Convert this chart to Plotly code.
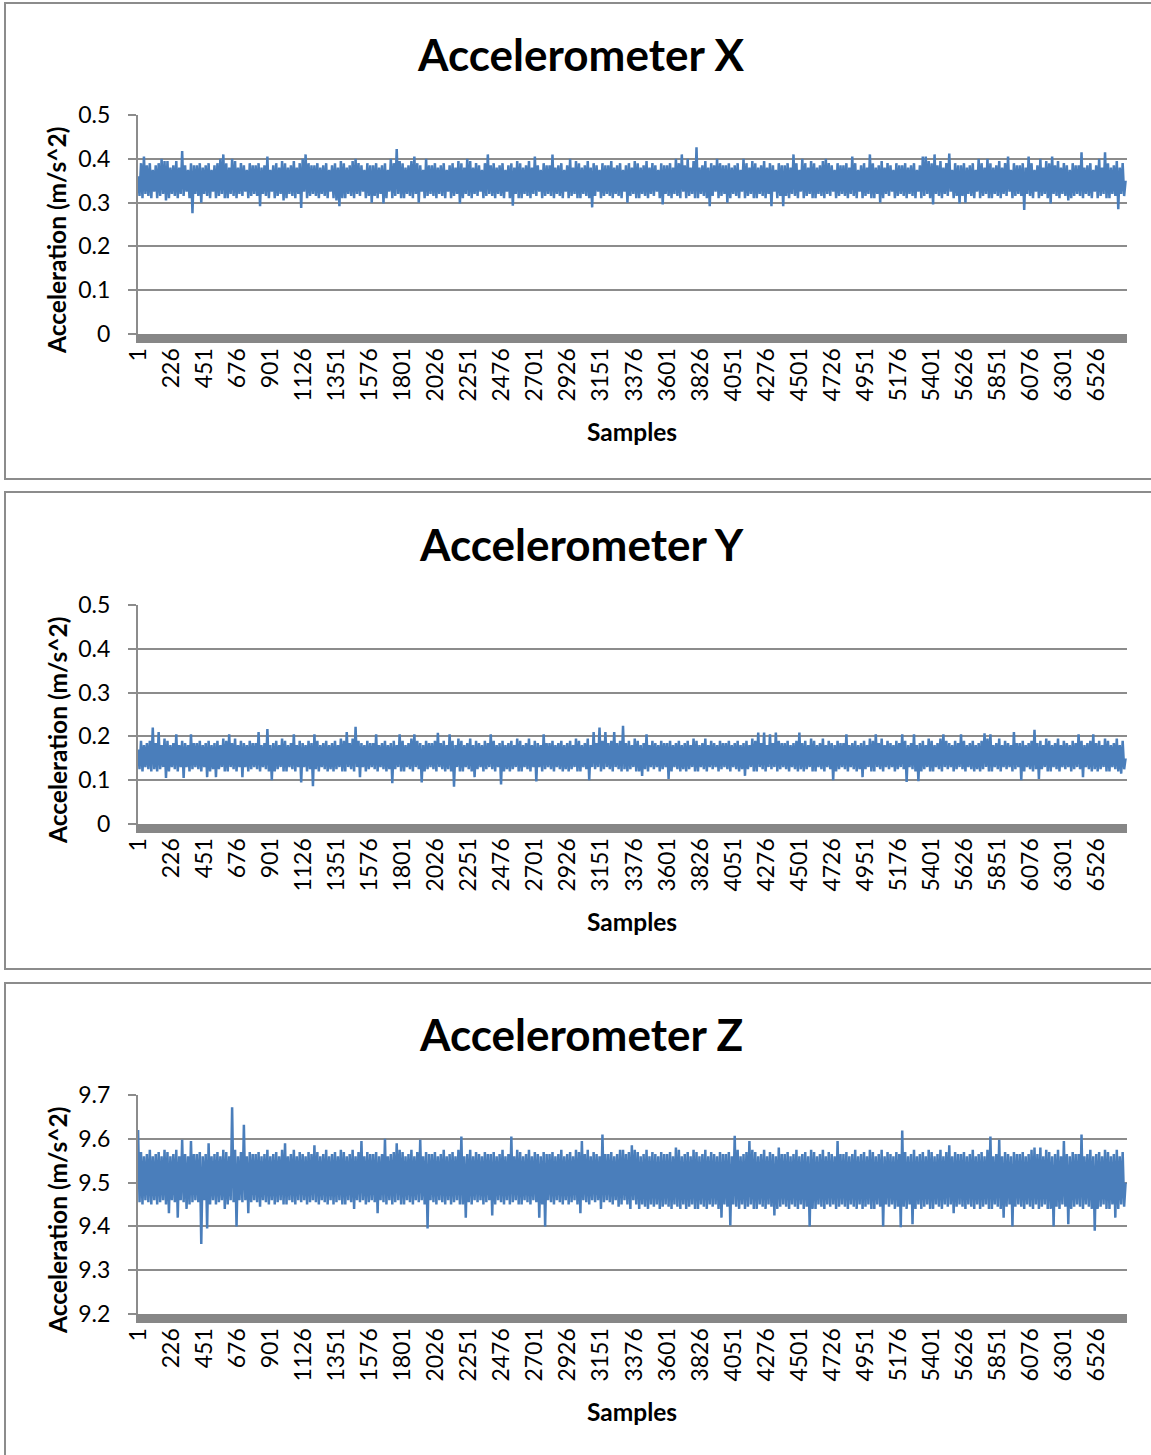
import plotly.graph_objects as go

W, H = 1151, 1455

# ---------------- data (one value every 10 samples) -------------
SAMPLE_STEP = 10
N_SAMPLES = 6730
TICK_LABELS = [str(1 + 225 * k) for k in range(30)]

ACC_X = [
    0.36, 0.315, 0.39, 0.31, 0.405, 0.32, 0.385, 0.315, 0.39, 0.31, 0.375, 0.325, 0.385, 0.31, 0.39, 0.315, 0.40, 0.32, 0.395, 0.305,
    0.395, 0.31, 0.38, 0.32, 0.385, 0.315, 0.395, 0.31, 0.38, 0.32, 0.418, 0.315, 0.385, 0.325, 0.375, 0.31, 0.39, 0.276, 0.385, 0.32,
    0.385, 0.315, 0.39, 0.30, 0.38, 0.32, 0.385, 0.315, 0.39, 0.31, 0.375, 0.325, 0.385, 0.31, 0.39, 0.315, 0.40, 0.32, 0.41, 0.31,
    0.39, 0.31, 0.38, 0.32, 0.40, 0.315, 0.395, 0.31, 0.38, 0.32, 0.39, 0.315, 0.385, 0.325, 0.375, 0.31, 0.39, 0.315, 0.385, 0.32,
    0.385, 0.315, 0.39, 0.292, 0.38, 0.32, 0.385, 0.315, 0.405, 0.31, 0.375, 0.325, 0.385, 0.31, 0.39, 0.315, 0.38, 0.32, 0.395, 0.305,
    0.39, 0.31, 0.38, 0.32, 0.385, 0.315, 0.395, 0.31, 0.38, 0.32, 0.39, 0.288, 0.40, 0.325, 0.41, 0.31, 0.39, 0.315, 0.385, 0.32,
    0.385, 0.315, 0.39, 0.31, 0.38, 0.32, 0.385, 0.315, 0.39, 0.31, 0.375, 0.325, 0.385, 0.31, 0.39, 0.305, 0.38, 0.292, 0.395, 0.31,
    0.39, 0.31, 0.38, 0.32, 0.385, 0.315, 0.395, 0.31, 0.40, 0.32, 0.39, 0.315, 0.385, 0.325, 0.375, 0.31, 0.39, 0.315, 0.385, 0.30,
    0.385, 0.315, 0.39, 0.31, 0.38, 0.32, 0.385, 0.298, 0.39, 0.31, 0.375, 0.325, 0.40, 0.31, 0.39, 0.315, 0.422, 0.32, 0.395, 0.31,
    0.39, 0.31, 0.38, 0.32, 0.385, 0.315, 0.395, 0.31, 0.405, 0.32, 0.39, 0.30, 0.385, 0.325, 0.375, 0.31, 0.40, 0.315, 0.385, 0.32,
    0.385, 0.315, 0.39, 0.31, 0.38, 0.32, 0.385, 0.315, 0.39, 0.31, 0.375, 0.325, 0.385, 0.31, 0.39, 0.315, 0.38, 0.32, 0.395, 0.298,
    0.39, 0.31, 0.38, 0.32, 0.40, 0.315, 0.395, 0.31, 0.38, 0.32, 0.39, 0.315, 0.385, 0.325, 0.375, 0.31, 0.39, 0.315, 0.41, 0.32,
    0.385, 0.315, 0.39, 0.31, 0.38, 0.32, 0.385, 0.315, 0.39, 0.31, 0.375, 0.325, 0.385, 0.31, 0.39, 0.293, 0.38, 0.32, 0.395, 0.31,
    0.39, 0.31, 0.38, 0.32, 0.385, 0.315, 0.395, 0.31, 0.38, 0.32, 0.405, 0.315, 0.385, 0.325, 0.375, 0.31, 0.39, 0.315, 0.385, 0.32,
    0.385, 0.315, 0.41, 0.31, 0.38, 0.32, 0.385, 0.315, 0.39, 0.31, 0.375, 0.325, 0.385, 0.31, 0.40, 0.315, 0.38, 0.32, 0.395, 0.31,
    0.39, 0.31, 0.38, 0.32, 0.385, 0.315, 0.395, 0.31, 0.38, 0.289, 0.39, 0.315, 0.385, 0.325, 0.375, 0.31, 0.39, 0.315, 0.385, 0.32,
    0.385, 0.315, 0.395, 0.31, 0.38, 0.32, 0.385, 0.315, 0.39, 0.31, 0.375, 0.325, 0.385, 0.30, 0.39, 0.315, 0.38, 0.32, 0.395, 0.31,
    0.39, 0.31, 0.38, 0.32, 0.385, 0.315, 0.395, 0.31, 0.38, 0.32, 0.39, 0.315, 0.385, 0.325, 0.375, 0.31, 0.39, 0.296, 0.385, 0.32,
    0.385, 0.315, 0.39, 0.31, 0.38, 0.32, 0.40, 0.315, 0.39, 0.31, 0.41, 0.325, 0.385, 0.31, 0.40, 0.315, 0.38, 0.32, 0.395, 0.31,
    0.426, 0.31, 0.38, 0.32, 0.385, 0.315, 0.395, 0.31, 0.38, 0.292, 0.39, 0.315, 0.385, 0.325, 0.40, 0.31, 0.39, 0.315, 0.385, 0.32,
    0.385, 0.30, 0.39, 0.31, 0.38, 0.32, 0.385, 0.315, 0.39, 0.31, 0.375, 0.325, 0.40, 0.31, 0.39, 0.315, 0.38, 0.32, 0.395, 0.31,
    0.39, 0.31, 0.38, 0.32, 0.385, 0.315, 0.395, 0.31, 0.38, 0.32, 0.39, 0.292, 0.385, 0.325, 0.375, 0.31, 0.39, 0.315, 0.385, 0.292,
    0.385, 0.315, 0.39, 0.31, 0.38, 0.32, 0.41, 0.315, 0.39, 0.31, 0.375, 0.325, 0.40, 0.31, 0.39, 0.315, 0.38, 0.32, 0.395, 0.31,
    0.39, 0.31, 0.38, 0.32, 0.385, 0.315, 0.395, 0.31, 0.40, 0.32, 0.39, 0.315, 0.385, 0.325, 0.375, 0.31, 0.39, 0.315, 0.385, 0.32,
    0.385, 0.315, 0.39, 0.31, 0.38, 0.32, 0.405, 0.315, 0.39, 0.31, 0.375, 0.325, 0.385, 0.31, 0.39, 0.315, 0.38, 0.32, 0.41, 0.31,
    0.39, 0.31, 0.38, 0.32, 0.385, 0.30, 0.395, 0.31, 0.38, 0.32, 0.39, 0.315, 0.385, 0.325, 0.375, 0.31, 0.39, 0.315, 0.385, 0.32,
    0.385, 0.315, 0.39, 0.31, 0.38, 0.32, 0.385, 0.315, 0.39, 0.31, 0.375, 0.325, 0.385, 0.31, 0.405, 0.315, 0.405, 0.32, 0.395, 0.31,
    0.39, 0.296, 0.41, 0.32, 0.385, 0.315, 0.395, 0.31, 0.38, 0.32, 0.39, 0.315, 0.412, 0.325, 0.375, 0.31, 0.39, 0.315, 0.385, 0.298,
    0.385, 0.315, 0.39, 0.30, 0.38, 0.32, 0.385, 0.315, 0.39, 0.31, 0.375, 0.325, 0.40, 0.31, 0.39, 0.315, 0.38, 0.32, 0.40, 0.31,
    0.39, 0.31, 0.38, 0.32, 0.385, 0.315, 0.395, 0.31, 0.38, 0.32, 0.39, 0.315, 0.405, 0.325, 0.375, 0.31, 0.39, 0.315, 0.385, 0.32,
    0.385, 0.315, 0.39, 0.283, 0.38, 0.32, 0.405, 0.315, 0.39, 0.31, 0.375, 0.325, 0.385, 0.31, 0.40, 0.315, 0.38, 0.32, 0.395, 0.31,
    0.39, 0.298, 0.405, 0.32, 0.385, 0.315, 0.395, 0.31, 0.38, 0.32, 0.39, 0.315, 0.385, 0.305, 0.375, 0.31, 0.39, 0.315, 0.385, 0.32,
    0.385, 0.315, 0.415, 0.31, 0.38, 0.32, 0.385, 0.315, 0.39, 0.31, 0.375, 0.325, 0.385, 0.31, 0.40, 0.315, 0.38, 0.32, 0.415, 0.31,
    0.39, 0.31, 0.38, 0.32, 0.385, 0.315, 0.395, 0.285, 0.38, 0.32, 0.39, 0.315, 0.35,
]

ACC_Y = [
    0.17, 0.125, 0.19, 0.12, 0.18, 0.13, 0.185, 0.125, 0.19, 0.12, 0.22, 0.125, 0.185, 0.12, 0.21, 0.125, 0.18, 0.13, 0.195, 0.105,
    0.19, 0.12, 0.18, 0.13, 0.185, 0.125, 0.205, 0.12, 0.18, 0.13, 0.19, 0.105, 0.185, 0.13, 0.18, 0.12, 0.205, 0.125, 0.185, 0.13,
    0.185, 0.125, 0.19, 0.12, 0.18, 0.13, 0.185, 0.107, 0.19, 0.12, 0.18, 0.125, 0.185, 0.107, 0.19, 0.125, 0.18, 0.13, 0.195, 0.12,
    0.19, 0.12, 0.205, 0.13, 0.185, 0.125, 0.195, 0.12, 0.18, 0.13, 0.19, 0.107, 0.185, 0.13, 0.18, 0.12, 0.19, 0.125, 0.185, 0.13,
    0.185, 0.125, 0.21, 0.12, 0.18, 0.13, 0.185, 0.125, 0.217, 0.12, 0.18, 0.10, 0.185, 0.12, 0.19, 0.125, 0.18, 0.13, 0.195, 0.12,
    0.19, 0.12, 0.18, 0.13, 0.185, 0.125, 0.205, 0.12, 0.18, 0.13, 0.19, 0.095, 0.185, 0.13, 0.18, 0.12, 0.19, 0.125, 0.185, 0.086,
    0.205, 0.125, 0.19, 0.12, 0.18, 0.13, 0.185, 0.125, 0.19, 0.12, 0.18, 0.125, 0.185, 0.12, 0.19, 0.125, 0.18, 0.13, 0.195, 0.12,
    0.19, 0.12, 0.21, 0.13, 0.185, 0.125, 0.195, 0.12, 0.222, 0.13, 0.19, 0.107, 0.185, 0.13, 0.18, 0.12, 0.19, 0.125, 0.185, 0.13,
    0.185, 0.125, 0.205, 0.12, 0.18, 0.13, 0.185, 0.125, 0.19, 0.12, 0.18, 0.125, 0.185, 0.093, 0.19, 0.125, 0.18, 0.13, 0.205, 0.12,
    0.19, 0.12, 0.18, 0.13, 0.185, 0.125, 0.195, 0.12, 0.205, 0.13, 0.19, 0.125, 0.185, 0.095, 0.18, 0.12, 0.19, 0.125, 0.185, 0.13,
    0.185, 0.125, 0.19, 0.12, 0.208, 0.13, 0.185, 0.125, 0.19, 0.12, 0.18, 0.125, 0.205, 0.12, 0.19, 0.085, 0.18, 0.13, 0.195, 0.12,
    0.19, 0.12, 0.18, 0.13, 0.185, 0.125, 0.195, 0.12, 0.18, 0.107, 0.19, 0.125, 0.185, 0.13, 0.18, 0.12, 0.19, 0.125, 0.185, 0.13,
    0.205, 0.125, 0.19, 0.12, 0.18, 0.13, 0.185, 0.09, 0.19, 0.12, 0.18, 0.125, 0.185, 0.12, 0.19, 0.125, 0.18, 0.13, 0.195, 0.12,
    0.19, 0.12, 0.18, 0.13, 0.185, 0.125, 0.195, 0.12, 0.18, 0.13, 0.19, 0.097, 0.185, 0.13, 0.18, 0.12, 0.205, 0.125, 0.185, 0.13,
    0.185, 0.125, 0.19, 0.12, 0.18, 0.13, 0.185, 0.125, 0.19, 0.12, 0.18, 0.125, 0.185, 0.12, 0.19, 0.125, 0.18, 0.13, 0.195, 0.12,
    0.19, 0.12, 0.18, 0.13, 0.185, 0.125, 0.195, 0.10, 0.18, 0.13, 0.21, 0.125, 0.185, 0.13, 0.22, 0.12, 0.19, 0.125, 0.21, 0.13,
    0.185, 0.125, 0.19, 0.12, 0.21, 0.13, 0.185, 0.125, 0.19, 0.12, 0.224, 0.125, 0.185, 0.12, 0.19, 0.125, 0.18, 0.13, 0.195, 0.12,
    0.19, 0.12, 0.18, 0.11, 0.185, 0.125, 0.205, 0.12, 0.18, 0.13, 0.19, 0.125, 0.185, 0.13, 0.18, 0.12, 0.19, 0.125, 0.185, 0.13,
    0.185, 0.103, 0.19, 0.12, 0.18, 0.13, 0.185, 0.125, 0.19, 0.12, 0.18, 0.125, 0.185, 0.12, 0.19, 0.125, 0.18, 0.13, 0.195, 0.12,
    0.19, 0.12, 0.18, 0.13, 0.185, 0.125, 0.195, 0.12, 0.18, 0.13, 0.19, 0.125, 0.185, 0.13, 0.18, 0.12, 0.19, 0.125, 0.185, 0.13,
    0.185, 0.125, 0.19, 0.12, 0.18, 0.13, 0.185, 0.125, 0.19, 0.12, 0.18, 0.125, 0.185, 0.11, 0.19, 0.125, 0.18, 0.13, 0.195, 0.12,
    0.19, 0.12, 0.209, 0.13, 0.185, 0.125, 0.209, 0.12, 0.18, 0.13, 0.205, 0.125, 0.185, 0.13, 0.209, 0.12, 0.19, 0.125, 0.185, 0.13,
    0.185, 0.125, 0.19, 0.12, 0.18, 0.13, 0.185, 0.125, 0.19, 0.12, 0.209, 0.125, 0.185, 0.12, 0.19, 0.125, 0.18, 0.13, 0.195, 0.12,
    0.19, 0.12, 0.18, 0.13, 0.185, 0.125, 0.195, 0.12, 0.18, 0.13, 0.19, 0.125, 0.185, 0.10, 0.18, 0.12, 0.19, 0.125, 0.185, 0.13,
    0.185, 0.125, 0.205, 0.12, 0.18, 0.13, 0.185, 0.125, 0.19, 0.12, 0.18, 0.125, 0.185, 0.107, 0.19, 0.125, 0.18, 0.13, 0.195, 0.12,
    0.19, 0.12, 0.205, 0.13, 0.185, 0.125, 0.195, 0.12, 0.18, 0.13, 0.19, 0.125, 0.185, 0.13, 0.18, 0.12, 0.19, 0.125, 0.185, 0.13,
    0.205, 0.125, 0.19, 0.096, 0.18, 0.13, 0.185, 0.125, 0.205, 0.12, 0.18, 0.098, 0.185, 0.12, 0.19, 0.125, 0.18, 0.13, 0.195, 0.12,
    0.19, 0.12, 0.18, 0.13, 0.185, 0.125, 0.195, 0.12, 0.205, 0.13, 0.19, 0.125, 0.185, 0.13, 0.18, 0.12, 0.19, 0.125, 0.185, 0.13,
    0.205, 0.125, 0.19, 0.12, 0.18, 0.13, 0.185, 0.125, 0.19, 0.12, 0.18, 0.125, 0.185, 0.12, 0.19, 0.125, 0.207, 0.13, 0.195, 0.12,
    0.205, 0.12, 0.18, 0.13, 0.185, 0.125, 0.195, 0.12, 0.18, 0.13, 0.19, 0.125, 0.185, 0.13, 0.18, 0.12, 0.21, 0.125, 0.185, 0.13,
    0.185, 0.10, 0.19, 0.12, 0.18, 0.13, 0.185, 0.125, 0.19, 0.12, 0.215, 0.125, 0.185, 0.103, 0.19, 0.125, 0.18, 0.13, 0.195, 0.12,
    0.19, 0.12, 0.18, 0.13, 0.185, 0.125, 0.195, 0.12, 0.18, 0.13, 0.19, 0.125, 0.185, 0.13, 0.18, 0.12, 0.19, 0.125, 0.185, 0.13,
    0.205, 0.125, 0.19, 0.107, 0.18, 0.13, 0.185, 0.125, 0.19, 0.12, 0.205, 0.125, 0.185, 0.12, 0.19, 0.125, 0.18, 0.13, 0.195, 0.12,
    0.19, 0.12, 0.18, 0.13, 0.185, 0.125, 0.195, 0.12, 0.18, 0.115, 0.19, 0.125, 0.15,
]

ACC_Z = [
    9.62, 9.455, 9.57, 9.45, 9.56, 9.46, 9.565, 9.455, 9.575, 9.45, 9.56, 9.46, 9.565, 9.45, 9.57, 9.455, 9.56, 9.46, 9.575, 9.45,
    9.57, 9.43, 9.56, 9.46, 9.565, 9.455, 9.575, 9.42, 9.56, 9.46, 9.598, 9.455, 9.565, 9.44, 9.56, 9.45, 9.595, 9.455, 9.565, 9.46,
    9.565, 9.455, 9.57, 9.36, 9.56, 9.46, 9.565, 9.395, 9.59, 9.45, 9.56, 9.46, 9.565, 9.45, 9.57, 9.455, 9.56, 9.46, 9.575, 9.44,
    9.57, 9.45, 9.56, 9.46, 9.672, 9.455, 9.575, 9.40, 9.56, 9.46, 9.57, 9.455, 9.632, 9.46, 9.56, 9.43, 9.57, 9.455, 9.565, 9.46,
    9.565, 9.455, 9.57, 9.445, 9.56, 9.46, 9.565, 9.455, 9.575, 9.45, 9.56, 9.46, 9.565, 9.45, 9.57, 9.455, 9.56, 9.46, 9.575, 9.45,
    9.59, 9.45, 9.56, 9.46, 9.565, 9.455, 9.575, 9.45, 9.56, 9.46, 9.57, 9.455, 9.565, 9.46, 9.56, 9.45, 9.57, 9.455, 9.565, 9.46,
    9.585, 9.455, 9.57, 9.45, 9.56, 9.46, 9.565, 9.455, 9.575, 9.45, 9.56, 9.46, 9.565, 9.45, 9.57, 9.455, 9.56, 9.46, 9.575, 9.45,
    9.57, 9.45, 9.56, 9.46, 9.565, 9.455, 9.575, 9.44, 9.56, 9.46, 9.57, 9.455, 9.595, 9.46, 9.56, 9.45, 9.57, 9.455, 9.565, 9.46,
    9.565, 9.455, 9.57, 9.43, 9.56, 9.46, 9.565, 9.455, 9.60, 9.45, 9.56, 9.46, 9.565, 9.45, 9.57, 9.455, 9.59, 9.46, 9.575, 9.45,
    9.57, 9.45, 9.56, 9.46, 9.565, 9.455, 9.575, 9.45, 9.56, 9.46, 9.57, 9.455, 9.598, 9.46, 9.56, 9.45, 9.57, 9.395, 9.565, 9.46,
    9.565, 9.455, 9.57, 9.45, 9.56, 9.46, 9.565, 9.455, 9.575, 9.45, 9.56, 9.46, 9.565, 9.45, 9.57, 9.455, 9.56, 9.46, 9.575, 9.45,
    9.605, 9.45, 9.56, 9.42, 9.565, 9.455, 9.575, 9.45, 9.56, 9.46, 9.57, 9.455, 9.565, 9.46, 9.56, 9.45, 9.57, 9.455, 9.565, 9.46,
    9.565, 9.425, 9.57, 9.45, 9.56, 9.46, 9.565, 9.455, 9.575, 9.45, 9.56, 9.46, 9.565, 9.45, 9.605, 9.455, 9.56, 9.46, 9.575, 9.45,
    9.57, 9.45, 9.56, 9.46, 9.565, 9.455, 9.575, 9.45, 9.56, 9.46, 9.57, 9.455, 9.565, 9.42, 9.56, 9.45, 9.57, 9.40, 9.565, 9.46,
    9.565, 9.455, 9.57, 9.45, 9.56, 9.46, 9.565, 9.455, 9.575, 9.45, 9.56, 9.46, 9.565, 9.45, 9.57, 9.455, 9.56, 9.46, 9.575, 9.45,
    9.57, 9.43, 9.595, 9.46, 9.565, 9.455, 9.575, 9.45, 9.56, 9.46, 9.57, 9.455, 9.565, 9.46, 9.56, 9.44, 9.61, 9.455, 9.565, 9.46,
    9.565, 9.455, 9.57, 9.45, 9.56, 9.46, 9.565, 9.445, 9.575, 9.45, 9.575, 9.46, 9.565, 9.45, 9.57, 9.44, 9.585, 9.46, 9.575, 9.45,
    9.57, 9.44, 9.56, 9.45, 9.565, 9.445, 9.575, 9.44, 9.56, 9.45, 9.57, 9.445, 9.565, 9.45, 9.56, 9.44, 9.57, 9.445, 9.565, 9.45,
    9.565, 9.445, 9.57, 9.44, 9.56, 9.45, 9.58, 9.445, 9.575, 9.44, 9.56, 9.45, 9.565, 9.44, 9.57, 9.445, 9.56, 9.45, 9.575, 9.44,
    9.57, 9.44, 9.56, 9.45, 9.565, 9.445, 9.575, 9.44, 9.56, 9.45, 9.57, 9.445, 9.565, 9.45, 9.56, 9.44, 9.57, 9.42, 9.565, 9.45,
    9.565, 9.445, 9.57, 9.402, 9.56, 9.45, 9.607, 9.445, 9.575, 9.44, 9.56, 9.45, 9.565, 9.44, 9.57, 9.445, 9.595, 9.45, 9.575, 9.44,
    9.57, 9.44, 9.56, 9.45, 9.565, 9.445, 9.575, 9.44, 9.56, 9.45, 9.57, 9.445, 9.565, 9.425, 9.56, 9.44, 9.58, 9.445, 9.565, 9.45,
    9.565, 9.445, 9.57, 9.44, 9.56, 9.45, 9.565, 9.445, 9.575, 9.44, 9.56, 9.45, 9.565, 9.44, 9.57, 9.445, 9.56, 9.40, 9.575, 9.44,
    9.57, 9.44, 9.56, 9.45, 9.565, 9.445, 9.575, 9.44, 9.56, 9.45, 9.57, 9.445, 9.565, 9.45, 9.56, 9.44, 9.595, 9.445, 9.565, 9.45,
    9.565, 9.445, 9.57, 9.44, 9.56, 9.45, 9.565, 9.445, 9.575, 9.44, 9.56, 9.45, 9.565, 9.44, 9.57, 9.445, 9.56, 9.45, 9.575, 9.44,
    9.57, 9.44, 9.56, 9.45, 9.565, 9.445, 9.575, 9.40, 9.56, 9.45, 9.57, 9.445, 9.565, 9.45, 9.56, 9.44, 9.57, 9.445, 9.565, 9.398,
    9.619, 9.445, 9.57, 9.44, 9.56, 9.45, 9.565, 9.405, 9.575, 9.44, 9.56, 9.45, 9.565, 9.44, 9.57, 9.445, 9.56, 9.45, 9.575, 9.44,
    9.57, 9.44, 9.56, 9.45, 9.565, 9.445, 9.575, 9.44, 9.56, 9.45, 9.57, 9.445, 9.585, 9.45, 9.56, 9.43, 9.57, 9.445, 9.565, 9.45,
    9.565, 9.445, 9.57, 9.44, 9.56, 9.45, 9.565, 9.445, 9.575, 9.44, 9.56, 9.45, 9.565, 9.44, 9.57, 9.445, 9.56, 9.45, 9.575, 9.44,
    9.605, 9.44, 9.56, 9.45, 9.565, 9.445, 9.598, 9.44, 9.56, 9.42, 9.57, 9.445, 9.565, 9.45, 9.56, 9.40, 9.57, 9.445, 9.565, 9.45,
    9.565, 9.445, 9.57, 9.44, 9.56, 9.45, 9.565, 9.445, 9.575, 9.44, 9.58, 9.45, 9.565, 9.44, 9.58, 9.445, 9.56, 9.45, 9.575, 9.44,
    9.57, 9.44, 9.56, 9.40, 9.565, 9.445, 9.575, 9.44, 9.56, 9.45, 9.595, 9.445, 9.565, 9.405, 9.56, 9.44, 9.57, 9.445, 9.565, 9.45,
    9.565, 9.445, 9.61, 9.44, 9.56, 9.45, 9.565, 9.445, 9.575, 9.44, 9.56, 9.39, 9.565, 9.44, 9.57, 9.445, 9.56, 9.45, 9.575, 9.44,
    9.57, 9.44, 9.56, 9.45, 9.565, 9.42, 9.575, 9.44, 9.56, 9.45, 9.57, 9.445, 9.50,
]

TITLES = ["Accelerometer X", "Accelerometer Y", "Accelerometer Z"]
Y_RANGES = [(0, 0.5), (0, 0.5), (9.2, 9.7)]
Y_TITLE = "Acceleration (m/s^2)"
X_TITLE = "Samples"
SERIES = [ACC_X, ACC_Y, ACC_Z]

# ---------------- layout helpers -------------
def px_x(p):
    return p / W

def px_y(p):
    return 1 - p / H

FONT = "Lato, 'Open Sans', sans-serif"
LINE_BLUE = "#4a7ebb"
GRID = "#8c8c8c"

PLOT_L, PLOT_R = 138, 1127
PANEL_OFF = [0, 490, 980]
PLOT_T, PLOT_B = 115, 334

fig = go.Figure()
shapes = []
annotations = []

for k in range(3):
    off = PANEL_OFF[k]
    sfx = "" if k == 0 else str(k + 1)
    xs = [1 + SAMPLE_STEP * i for i in range(len(SERIES[k]))]
    fig.add_trace(go.Scatter(
        x=xs, y=SERIES[k], mode="lines",
        line=dict(color=LINE_BLUE, width=2.5),
        xaxis="x" + sfx, yaxis="y" + sfx, showlegend=False, hoverinfo="skip",
    ))
    y0 = Y_RANGES[k][0]
    fig.update_layout(**{
        "xaxis" + sfx: dict(
            domain=[px_x(PLOT_L), px_x(PLOT_R)], anchor="y" + sfx,
            range=[0.5, N_SAMPLES + 0.5], automargin=False,
            tickmode="array", tickvals=[int(t) for t in TICK_LABELS], ticktext=TICK_LABELS,
            tickangle=-90, showgrid=False, zeroline=False,
            showline=True, linecolor="#878787", linewidth=9,
            ticks="", ticklabelstandoff=-4,
            tickfont=dict(family=FONT, size=23, color="#000"),
        ),
        "yaxis" + sfx: dict(
            domain=[px_y(PLOT_B + off), px_y(PLOT_T + off)], anchor="x" + sfx,
            range=list(Y_RANGES[k]), dtick=0.1, tick0=y0, automargin=False,
            showgrid=True, gridcolor=GRID, gridwidth=1.5, zeroline=False,
            showline=True, linecolor=GRID, linewidth=2,
            ticks="outside", ticklen=8, tickcolor=GRID, tickwidth=1.5,
            ticklabelstandoff=13,
            tickfont=dict(family=FONT, size=23, color="#000"),
        ),
    })
    shapes.append(dict(type="rect", xref="paper", yref="paper",
                       x0=px_x(5), x1=px_x(1160),
                       y0=px_y([479, 969, 1462][k]), y1=px_y([3, 492, 983][k]),
                       line=dict(color="#8c8c8c", width=2), fillcolor="rgba(0,0,0,0)", layer="below"))
    annotations.append(dict(text=TITLES[k], x=px_x(581), y=px_y(54 + off), xref="paper", yref="paper",
                            showarrow=False, xanchor="center", yanchor="middle",
                            font=dict(family=FONT, size=44, color="#000", weight="bold")))
    annotations.append(dict(text=Y_TITLE, x=px_x(57), y=px_y(241 + off), xref="paper", yref="paper",
                            showarrow=False, textangle=-90, xanchor="center", yanchor="middle",
                            font=dict(family=FONT, size=24.5, color="#000", weight="bold")))
    annotations.append(dict(text=X_TITLE, x=px_x(632), y=px_y(431 + off), xref="paper", yref="paper",
                            showarrow=False, xanchor="center", yanchor="middle",
                            font=dict(family=FONT, size=24.5, color="#000", weight="bold")))

fig.update_layout(
    width=W, height=H, margin=dict(l=0, r=0, t=0, b=0, pad=0, autoexpand=False),
    paper_bgcolor="white", plot_bgcolor="white",
    shapes=shapes, annotations=annotations,
)

fig.write_html("out.html", post_script="document.body.style.margin='0px';document.body.style.padding='0px';")
